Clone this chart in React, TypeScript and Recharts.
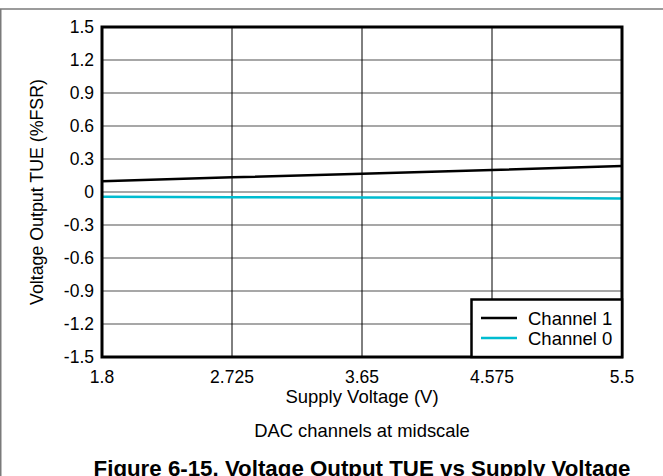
import { LineChart, Line, XAxis, YAxis, CartesianGrid } from 'recharts'

// Supply voltage sweep (V)
const supplyVoltage = [1.8, 2.725, 3.65, 4.575, 5.5]
// TUE readings (%FSR)
const channel1 = [0.098, 0.133, 0.166, 0.2, 0.236]
const channel0 = [-0.043, -0.048, -0.05, -0.052, -0.058]

const xTicks = [1.8, 2.725, 3.65, 4.575, 5.5]
const yTicks = [-1.5, -1.2, -0.9, -0.6, -0.3, 0, 0.3, 0.6, 0.9, 1.2, 1.5]

const COLORS = {
  ch1: '#000000',
  ch0: '#00bcd0',
  gridH: '#8a8a8a',
  gridV: '#000000',
  frame: '#7a7a7a',
}

const FONT = '"Liberation Sans", Arial, Helvetica, sans-serif'

const W = 663
const H = 476
// plot area box
const PLOT = { left: 102, top: 27, right: 622, bottom: 357 }

const data = supplyVoltage.map((v, i) => ({
  v,
  ch1: channel1[i],
  ch0: channel0[i],
}))

export default function App() {
  const cx = (PLOT.left + PLOT.right) / 2
  const cy = (PLOT.top + PLOT.bottom) / 2

  return (
    <div
      style={{
        position: 'absolute',
        left: 0,
        top: 0,
        width: W,
        height: H,
        background: '#fff',
        overflow: 'hidden',
        fontFamily: FONT,
      }}
    >
      <LineChart
        width={W}
        height={H}
        data={data}
        margin={{ top: PLOT.top, right: W - PLOT.right, bottom: H - PLOT.bottom - 30, left: PLOT.left - 60 }}
      >
        <CartesianGrid stroke={COLORS.gridH} strokeWidth={1.3} vertical={false} />
        <CartesianGrid stroke={COLORS.gridV} strokeWidth={1} horizontal={false} />
        <XAxis
          dataKey="v"
          type="number"
          domain={[1.8, 5.5]}
          ticks={xTicks}
          tickFormatter={(t) => String(t)}
          axisLine={false}
          tickLine={false}
          tickSize={6}
          tickMargin={8}
          height={30}
          tick={{ fill: '#000', fontSize: 17.5, fontFamily: FONT }}
        />
        <YAxis
          type="number"
          domain={[-1.5, 1.5]}
          ticks={yTicks}
          tickFormatter={(t) => String(t)}
          axisLine={false}
          tickLine={false}
          tickSize={6}
          tickMargin={2}
          width={60}
          tick={{ fill: '#000', fontSize: 17.5, fontFamily: FONT }}
        />
        <Line
          type="linear"
          dataKey="ch1"
          stroke={COLORS.ch1}
          strokeWidth={2.5}
          dot={false}
          isAnimationActive={false}
        />
        <Line
          type="linear"
          dataKey="ch0"
          stroke={COLORS.ch0}
          strokeWidth={2.5}
          dot={false}
          isAnimationActive={false}
        />
      </LineChart>

      {/* frame, plot border, legend and captions */}
      <svg
        width={W}
        height={H}
        style={{ position: 'absolute', left: 0, top: 0, pointerEvents: 'none' }}
      >
        <line x1={0} y1={9} x2={W} y2={9} stroke={COLORS.frame} strokeWidth={1.5} />
        <line x1={0.75} y1={9} x2={0.75} y2={H} stroke={COLORS.frame} strokeWidth={1.5} />

        <rect
          x={PLOT.left}
          y={PLOT.top}
          width={PLOT.right - PLOT.left}
          height={PLOT.bottom - PLOT.top}
          fill="none"
          stroke="#000"
          strokeWidth={3}
        />

        <rect x={471.5} y={299.5} width={PLOT.right - 471.5} height={PLOT.bottom - 299.5} fill="#fff" stroke="#000" strokeWidth={2.5} />
        <line x1={481} y1={318} x2={517} y2={318} stroke={COLORS.ch1} strokeWidth={2.5} />
        <line x1={481} y1={338} x2={517} y2={338} stroke={COLORS.ch0} strokeWidth={2.5} />
        <text x={528} y={324.5} fontSize={18.5} fontFamily={FONT} fill="#000">
          Channel 1
        </text>
        <text x={528} y={344.5} fontSize={18.5} fontFamily={FONT} fill="#000">
          Channel 0
        </text>

        <text
          x={37}
          y={cy}
          transform={`rotate(-90 37 ${cy})`}
          textAnchor="middle"
          dominantBaseline="central"
          fontSize={17.8}
          fontFamily={FONT}
          fill="#000"
        >
          Voltage Output TUE (%FSR)
        </text>

        <text x={cx} y={403} textAnchor="middle" fontSize={18.5} fontFamily={FONT} fill="#000">
          Supply Voltage (V)
        </text>
        <text x={cx} y={437} textAnchor="middle" fontSize={18.4} fontFamily={FONT} fill="#000">
          DAC channels at midscale
        </text>
        <text
          x={cx}
          y={476}
          textAnchor="middle"
          fontSize={22.3}
          fontWeight="bold"
          fontFamily={FONT}
          fill="#000"
        >
          Figure 6-15. Voltage Output TUE vs Supply Voltage
        </text>
      </svg>
    </div>
  )
}
